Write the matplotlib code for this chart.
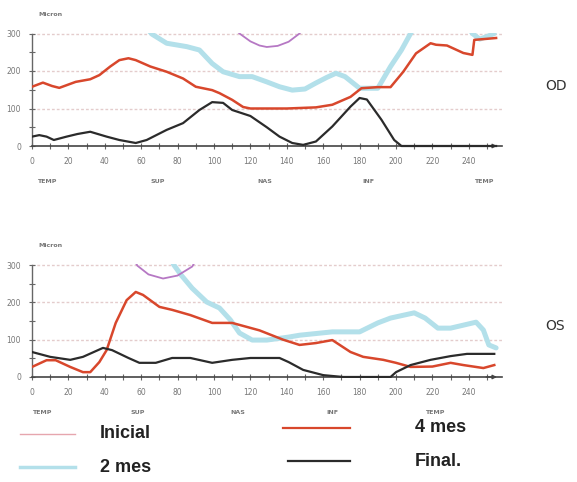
import numpy as np
import matplotlib
matplotlib.use("Agg")
import matplotlib.pyplot as plt
from matplotlib.lines import Line2D

# ---------------- data ----------------
# OD (right eye)
od_inicial_x = [110, 114, 120, 125, 129, 135, 141, 147, 150]
od_inicial_y = [320, 300, 279, 268, 264, 267, 278, 300, 320]

od_2mes_x = [62, 66, 74, 85, 92, 99, 105, 114, 121, 129, 136, 143, 150, 156, 162, 167, 172, 180, 190, 197, 203, 208, 212, 238, 242, 246, 250, 254]
od_2mes_y = [320, 298, 274, 265, 256, 220, 198, 185, 185, 171, 158, 149, 152, 168, 183, 194, 185, 154, 154, 212, 256, 300, 330, 330, 300, 285, 292, 300]

od_4mes_x = [0, 6, 11, 15, 24, 32, 37, 43, 48, 53, 57, 65, 74, 83, 90, 99, 103, 110, 116, 120, 140, 156, 165, 175, 181, 190, 197, 204, 211, 219, 222, 228, 237, 242, 243, 248, 255]
od_4mes_y = [158, 169, 160, 155, 171, 178, 189, 212, 229, 234, 229, 212, 198, 180, 158, 149, 141, 123, 104, 100, 100, 103, 110, 131, 154, 157, 157, 198, 247, 274, 270, 268, 248, 243, 283, 285, 288]

od_final_x = [0, 4, 8, 12, 19, 25, 32, 41, 48, 57, 63, 74, 83, 92, 99, 105, 110, 120, 129, 136, 143, 149, 156, 165, 175, 180, 184, 192, 199, 203, 255]
od_final_y = [25, 29, 25, 16, 25, 32, 38, 25, 16, 8, 16, 43, 61, 96, 117, 115, 96, 80, 50, 25, 8, 3, 12, 52, 105, 128, 124, 70, 16, 0, 0]

# OS (left eye)
os_inicial_x = [55, 58, 64, 72, 80, 88, 91]
os_inicial_y = [320, 298, 275, 264, 272, 296, 320]

os_2mes_x = [76, 78, 82, 88, 96, 103, 109, 114, 121, 129, 141, 147, 165, 180, 190, 197, 210, 216, 223, 230, 237, 244, 248, 251, 255]
os_2mes_y = [320, 300, 273, 238, 201, 185, 153, 118, 99, 99, 107, 112, 121, 121, 145, 158, 172, 158, 131, 131, 139, 147, 126, 86, 78]

os_4mes_x = [0, 8, 13, 21, 28, 32, 37, 41, 46, 52, 57, 61, 70, 77, 87, 99, 110, 125, 138, 147, 156, 165, 175, 182, 193, 200, 208, 220, 230, 237, 248, 254]
os_4mes_y = [27, 45, 45, 27, 13, 13, 40, 72, 145, 206, 228, 220, 188, 180, 166, 145, 145, 125, 100, 86, 91, 99, 67, 54, 46, 38, 27, 28, 38, 32, 24, 32]

os_final_x = [0, 10, 21, 28, 39, 44, 53, 59, 68, 77, 87, 99, 110, 120, 129, 136, 141, 149, 160, 171, 197, 200, 208, 219, 230, 239, 254]
os_final_y = [67, 54, 46, 54, 78, 72, 51, 38, 38, 51, 51, 38, 46, 51, 51, 51, 40, 19, 5, 0, 0, 13, 32, 46, 56, 62, 62]

x_ticks = list(range(0, 241, 20))
y_ticks = [0, 100, 200, 300]
regions = ['TEMP', 'SUP', 'NAS', 'INF', 'TEMP']
od_region_pos = [8, 69, 128, 185, 248]
os_region_pos = [5.5, 58, 113, 165, 221]
series_names = ['Inicial', '2 mes', '4 mes', 'Final.']

# ---------------- style ----------------
C_INI = '#b678c4'
C_INI_LEG = '#e6a6ae'
C_2M = '#b3e0ea'
C_4M = '#d8472c'
C_FIN = '#2b2b2b'
LEG_FONT = ['Liberation Sans Narrow', 'Liberation Sans', 'DejaVu Sans']

W, H = 577, 482
fig = plt.figure(figsize=(W / 100, H / 100), dpi=100)

XMIN, XMAX = 0, 258
YMIN, YMAX = -4, 302


def make_ax(y0_px, ppu):
    left = 32
    right = 32 + (XMAX - XMIN) * 1.82
    bottom_px = y0_px - YMIN * ppu
    top_px = y0_px - YMAX * ppu
    ax = fig.add_axes([left / W, 1 - bottom_px / H, (right - left) / W, (bottom_px - top_px) / H])
    ax.set_xlim(XMIN, XMAX)
    ax.set_ylim(YMIN, YMAX)
    return ax


def style_ax(ax, region_pos, label_side, side_y_px, micron_y_px):
    for s in ['top', 'right']:
        ax.spines[s].set_visible(False)
    ax.spines['left'].set_color('#666666')
    ax.spines['left'].set_linewidth(1.0)
    ax.spines['left'].set_bounds(0, 300)
    ax.spines['bottom'].set_color('#444444')
    ax.spines['bottom'].set_linewidth(1.2)
    ax.spines['bottom'].set_position(('data', 0))
    ax.set_xticks(x_ticks)
    ax.set_xticks(range(0, 256, 10), minor=True)
    ax.set_yticks(y_ticks)
    ax.set_yticks([50, 150, 250], minor=True)
    ax.tick_params(axis='both', which='both', direction='inout', colors='#666666',
                   labelsize=5.5, labelcolor='#777777', length=4, width=0.8, pad=6)
    for yv in [100, 200, 300]:
        ax.axhline(yv, color='#e4cccc', lw=1.0, ls=(0, (2, 1.5)), zorder=0)
    ax.annotate('', xy=(257, 0), xytext=(248, 0),
                arrowprops=dict(arrowstyle='-|>', color='#444444', lw=1.0, mutation_scale=6),
                annotation_clip=False)
    for name, xp in zip(regions, region_pos):
        ax.text(xp, -95, name, fontsize=4.5, color='#777777', ha='center', va='center',
                fontweight='bold', clip_on=False)
    fig.text(545 / W, 1 - side_y_px / H, label_side, fontsize=10, color='#333333', ha='left', va='center')
    fig.text(38 / W, 1 - micron_y_px / H, 'Micron', fontsize=4.5, color='#777777', ha='left', va='center',
             fontweight='bold')


# top axes (OD): 0 at y=146, 37.5 px per 100
ax1 = make_ax(146, 0.375)
style_ax(ax1, od_region_pos, 'OD', 86, 15)
ax1.plot(od_2mes_x, od_2mes_y, color=C_2M, lw=3.6, solid_capstyle='round', zorder=2)
ax1.plot(od_inicial_x, od_inicial_y, color=C_INI, lw=1.3, zorder=3)
ax1.plot(od_4mes_x, od_4mes_y, color=C_4M, lw=1.8, zorder=4)
ax1.plot(od_final_x, od_final_y, color=C_FIN, lw=1.6, zorder=5)

# bottom axes (OS): 0 at y=377, 37.3 px per 100
ax2 = make_ax(377, 0.373)
style_ax(ax2, os_region_pos, 'OS', 326, 246)
ax2.plot(os_2mes_x, os_2mes_y, color=C_2M, lw=3.6, solid_capstyle='round', zorder=2)
ax2.plot(os_inicial_x, os_inicial_y, color=C_INI, lw=1.3, zorder=3)
ax2.plot(os_4mes_x, os_4mes_y, color=C_4M, lw=1.8, zorder=4)
ax2.plot(os_final_x, os_final_y, color=C_FIN, lw=1.6, zorder=5)

# legend drawn in figure pixels
leg = [
    (series_names[0], C_INI_LEG, 1.0, (20, 75), 434, 100),
    (series_names[1], C_2M, 2.5, (20, 75), 467, 100),
    (series_names[2], C_4M, 1.6, (283, 350), 428, 415),
    (series_names[3], C_FIN, 1.6, (288, 350), 461, 415),
]
for name, col, lw, (xa, xb), ypx, tx in leg:
    fig.add_artist(Line2D([xa / W, xb / W], [1 - ypx / H, 1 - ypx / H], color=col, lw=lw))
    fig.text(tx / W, 1 - ypx / H, name, fontsize=13, fontweight='bold', color='#222222',
             ha='left', va='center', family=LEG_FONT)

fig.savefig('out.png', dpi=100)
